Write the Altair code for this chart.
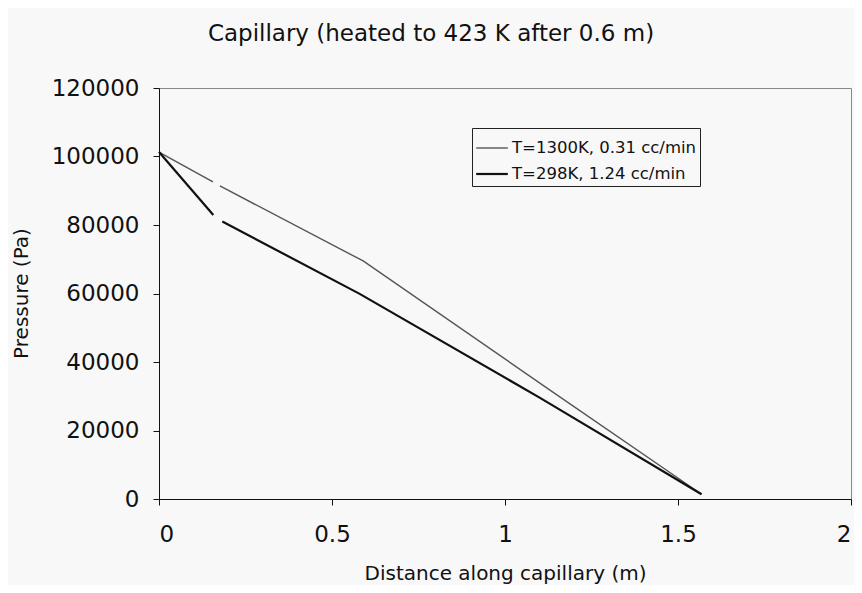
import altair as alt
import pandas as pd

series_names = ["T=1300K, 0.31 cc/min", "T=298K, 1.24 cc/min"]

# 1300K series (two segments, gap near 0.16-0.18 m)
hot_seg1_x = [0.0, 0.156]
hot_seg1_y = [101300, 92600]
hot_seg2_x = [0.176, 0.59, 1.13, 1.568]
hot_seg2_y = [91400, 69500, 31800, 1400]

# 298K series
cold_seg1_x = [0.0, 0.157]
cold_seg1_y = [101300, 82900]
cold_seg2_x = [0.183, 0.58, 1.1, 1.568]
cold_seg2_y = [81000, 59900, 29600, 1400]

rows = []
for name, seg, xs, ys in [
    (series_names[0], "h1", hot_seg1_x, hot_seg1_y),
    (series_names[0], "h2", hot_seg2_x, hot_seg2_y),
    (series_names[1], "c1", cold_seg1_x, cold_seg1_y),
    (series_names[1], "c2", cold_seg2_x, cold_seg2_y),
]:
    for x, y in zip(xs, ys):
        rows.append({"series": name, "seg": seg, "x": x, "y": y})
df = pd.DataFrame(rows)

FONT = "DejaVu Sans"

legend = alt.Legend(
    title=None,
    orient="none",
    legendX=313,
    legendY=40,
    symbolType="stroke",
    symbolSize=1000,
    labelFontSize=16.5,
    labelFont=FONT,
    labelColor="#111",
    labelLimit=400,
    strokeColor="#222",
    padding=3,
    rowPadding=0,
    labelOffset=3,
    fillColor="#f8f8f8",
)

chart = alt.Chart(df).mark_line().encode(
    x=alt.X("x:Q", scale=alt.Scale(domain=[0, 2], nice=False),
            axis=alt.Axis(values=[0, 0.5, 1, 1.5, 2], title="Distance along capillary (m)",
                          titleX=346, titleY=80, titleBaseline="alphabetic",
                          labelPadding=18, tickSize=6, format="~g")),
    y=alt.Y("y:Q", scale=alt.Scale(domain=[0, 120000], nice=False),
            axis=alt.Axis(values=[0, 20000, 40000, 60000, 80000, 100000, 120000],
                          title="Pressure (Pa)", format="d",
                          titleX=-138, titleY=205, titleBaseline="middle",
                          labelPadding=14, tickSize=6)),
    color=alt.Color("series:N", scale=alt.Scale(domain=series_names, range=["#555555", "#111111"]),
                    legend=legend),
    strokeWidth=alt.StrokeWidth("series:N", scale=alt.Scale(domain=series_names, range=[1.4, 2.2]),
                                legend=legend),
    detail="seg:N",
).properties(
    width=692,
    height=411,
    padding={"left": 151, "top": 80, "right": 3, "bottom": 86},
    autosize=alt.AutoSizeParams(type="none"),
    title=alt.TitleParams("Capillary (heated to 423 K after 0.6 m)", anchor="middle",
                          dx=-74, offset=31, fontSize=23, font=FONT, fontWeight="normal",
                          color="#111"),
    background="#f8f8f8",
).configure_axis(
    labelFont=FONT, titleFont=FONT, labelFontSize=23, titleFontSize=20,
    titleFontWeight="normal", labelColor="#111", titleColor="#111",
    domainColor="#111", tickColor="#111", grid=False,
).configure_view(
    stroke="#888888", strokeWidth=1,
)

chart.save("out.html", embed_options={"renderer": "svg", "actions": False})
